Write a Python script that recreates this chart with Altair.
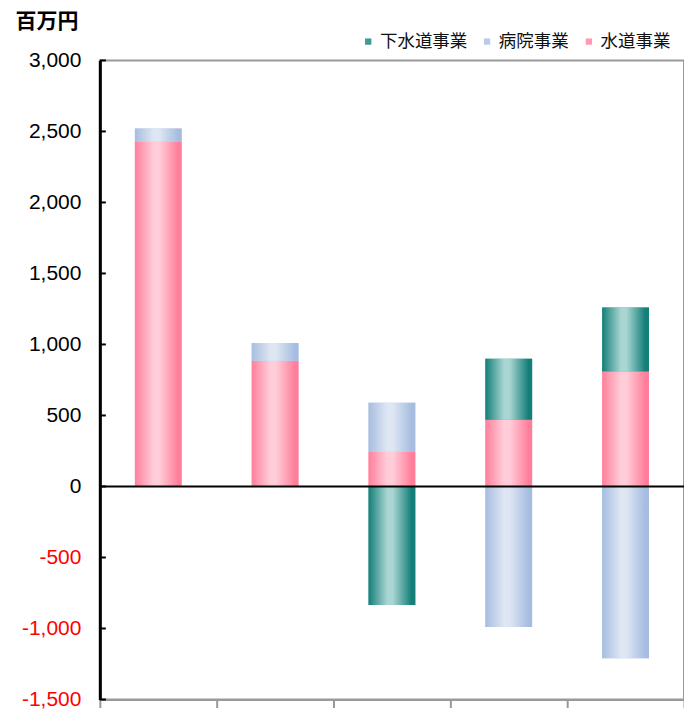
import altair as alt
import pandas as pd

# Five fiscal periods (unlabelled on the axis), values in millions of yen
periods = ["1", "2", "3", "4", "5"]
series = ["下水道事業", "病院事業", "水道事業"]
water = [2430, 885, 245, 470, 810]
hospital = [90, 125, 345, -990, -1210]
sewer = [0, 0, -835, 430, 450]
tick_values = [-1500, -1000, -500, 0, 500, 1000, 1500, 2000, 2500, 3000]

stack_order = {"水道事業": 0, "病院事業": 1, "下水道事業": 2}
rows = []
for name, vals in (("水道事業", water), ("病院事業", hospital), ("下水道事業", sewer)):
    for p, v in zip(periods, vals):
        rows.append({"period": p, "series": name, "value": v, "order": stack_order[name]})
df = pd.DataFrame(rows)

CJK = "Noto Sans CJK JP"
LAT = "Liberation Sans"


def cylinder(edge, light):
    """Horizontal gradient giving each bar a rounded, cylinder-like shading."""
    return {
        "gradient": "linear", "x1": 0, "x2": 1, "y1": 0, "y2": 0,
        "stops": [
            {"offset": 0.0, "color": edge},
            {"offset": 0.4, "color": light},
            {"offset": 0.52, "color": light},
            {"offset": 0.92, "color": edge},
            {"offset": 1.0, "color": edge},
        ],
    }


fills = {
    "水道事業": cylinder("#ff7f9b", "#ffcdd9"),
    "病院事業": cylinder("#a7bde0", "#dee6f3"),
    "下水道事業": cylinder("#147f79", "#a9d5d2"),
}
legend_colors = ["#3f9a93", "#b9cbe7", "#ff9ab0"]

y_axis = alt.Axis(
    values=tick_values,
    labelExpr="(datum.value < 0 ? '-' : '') + format(abs(datum.value), ',')",
    ticks=False, grid=False,
    domainColor="black", domainWidth=3,
    labelFont=LAT, labelFontSize=21, labelPadding=19,
    labelColor=alt.ExprRef(expr="datum.value < 0 ? '#ff0000' : '#000000'"),
    title="百万円", titleAngle=0, titleAlign="left", titleBaseline="middle",
    titleX=-85, titleY=-39, titleFont=CJK, titleFontSize=21,
    titleFontWeight="bold", titleColor="black",
)
y_scale = alt.Scale(domain=[-1500, 3000], nice=False, zero=False)

stacked = alt.Chart(df).transform_stack(
    stack="value", groupby=["period"], as_=["y0", "y1"],
    sort=[alt.SortField("order", order="ascending")], offset="zero",
)

base = stacked.mark_bar(width=alt.RelativeBandSize(0.4)).encode(
    x=alt.X(
        "period:N", sort=periods,
        scale=alt.Scale(paddingInner=0, paddingOuter=0),
        axis=alt.Axis(labels=False, title=None, domainColor="#999999", domainWidth=2,
                      tickColor="#999999", tickWidth=2, tickSize=8, tickBand="extent"),
    ),
    y=alt.Y("y0:Q", scale=y_scale, axis=y_axis),
    y2="y1:Q",
    color=alt.Color(
        "series:N",
        scale=alt.Scale(domain=series, range=legend_colors),
        legend=alt.Legend(
            title=None, orient="none", legendX=260, legendY=-28,
            direction="horizontal", symbolType="square", symbolSize=40,
            symbolStrokeWidth=0, labelFont=CJK, labelFontSize=17.5,
            labelOffset=3, columnPadding=11, labelColor="#111111",
        ),
    ),
)

shaded = stacked.mark_bar(width=alt.RelativeBandSize(0.4)).encode(
    x=alt.X("period:N", sort=periods),
    y=alt.Y("y0:Q"),
    y2="y1:Q",
    color={
        "condition": [
            {"test": "datum.series === '水道事業'", "value": fills["水道事業"]},
            {"test": "datum.series === '病院事業'", "value": fills["病院事業"]},
        ],
        "value": fills["下水道事業"],
    },
)

zero_line = alt.Chart(pd.DataFrame({"y0": [0]})).mark_rule(
    color="black", strokeWidth=2
).encode(y=alt.Y("y0:Q"))

inner_ticks = alt.Chart(pd.DataFrame({"y0": tick_values})).mark_rule(
    color="black", strokeWidth=2
).encode(
    y=alt.Y("y0:Q"),
    x=alt.value(0), x2=alt.value(6),
)

chart = alt.layer(base, shaded, zero_line, inner_ticks).properties(
    width=585, height=640,
    autosize=alt.AutoSizeParams(type="none"),
    padding={"left": 100, "top": 60, "right": 0, "bottom": 12},
    background="white",
).configure_view(stroke="#999999", strokeWidth=2)

chart.save("out.html", embed_options={"renderer": "svg", "actions": False})
